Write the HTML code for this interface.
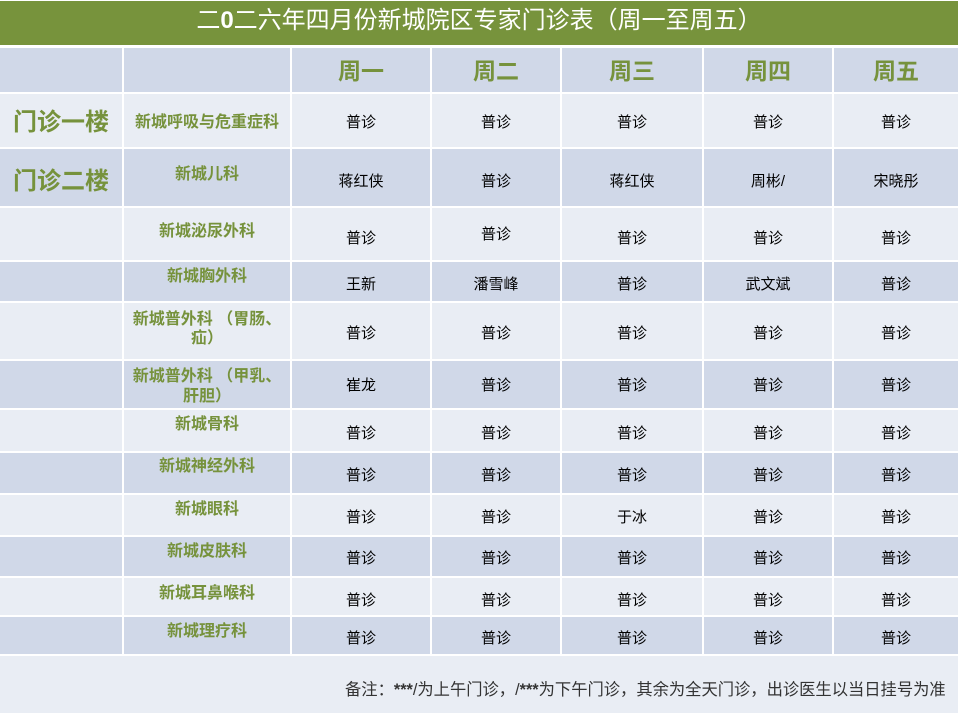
<!DOCTYPE html>
<html><head><meta charset="utf-8">
<style>
html,body{margin:0;padding:0;}
body{width:958px;height:713px;position:relative;background:#fff;overflow:hidden;font-family:"Liberation Sans","Noto Sans CJK SC",sans-serif;}
.r{position:absolute;}
.d{background:#D0D8E8;}
.l{background:#E9EDF4;}
.t{position:absolute;text-align:center;white-space:nowrap;}
.b{font-size:15px;color:#000;height:20px;line-height:20px;}
.n{font-size:16px;font-weight:bold;color:#76923C;height:20px;line-height:20px;}
.h{font-size:23px;font-weight:bold;color:#76923C;height:30px;line-height:30px;}
.f{font-size:24px;font-weight:bold;color:#76923C;height:30px;line-height:30px;}
</style></head><body>
<div class="r" style="left:0;top:1px;width:958px;height:44px;background:#77933C;"></div>
<div class="t" style="left:0;width:958px;top:6px;height:30px;line-height:30px;font-size:24px;color:#fff;">二<b>0</b>二六年四月份新城院区专家门诊表（周一至周五）</div>

<div id="bg"></div>
<script>
(function(){
var rows=[[48,92,'d'],[94,147,'l'],[149,206,'d'],[208,260,'l'],[262,301,'d'],[303,359,'l'],[361,408,'d'],[410,451,'l'],[453,493,'d'],[495,535,'l'],[537,576,'d'],[578,615,'l'],[617,654,'d']];
var cols=[[0,122],[124,290],[292,430],[432,560],[562,702],[704,832],[834,958]];
var h='';
rows.forEach(function(r){cols.forEach(function(c){
h+='<div class="r '+r[2]+'" style="left:'+c[0]+'px;top:'+r[0]+'px;width:'+(c[1]-c[0])+'px;height:'+(r[1]-r[0])+'px"></div>';});});
h+='<div class="r l" style="left:0;top:656px;width:958px;height:57px"></div>';
var cx=[[292,430],[432,560],[562,702],[704,832],[834,958]];
var hd=['周一','周二','周三','周四','周五'];
hd.forEach(function(s,i){h+='<div class="t h" style="left:'+cx[i][0]+'px;width:'+(cx[i][1]-cx[i][0])+'px;top:56px">'+s+'</div>';});
var data=[
[121,['普诊','普诊','普诊','普诊','普诊']],
[180,['蒋红侠','普诊','蒋红侠','周彬/','宋晓彤']],
[237,['普诊','普诊','普诊','普诊','普诊']],
[283,['王新','潘雪峰','普诊','武文斌','普诊']],
[332,['普诊','普诊','普诊','普诊','普诊']],
[384,['崔龙','普诊','普诊','普诊','普诊']],
[432,['普诊','普诊','普诊','普诊','普诊']],
[474,['普诊','普诊','普诊','普诊','普诊']],
[516,['普诊','普诊','于冰','普诊','普诊']],
[557,['普诊','普诊','普诊','普诊','普诊']],
[599,['普诊','普诊','普诊','普诊','普诊']],
[637,['普诊','普诊','普诊','普诊','普诊']]];
data.forEach(function(r,ri){r[1].forEach(function(s,i){
var y=r[0]; if(ri==2&&i==1) y=233;
h+='<div class="t b" style="left:'+cx[i][0]+'px;width:'+(cx[i][1]-cx[i][0])+'px;top:'+(y-8)+'px">'+s+'</div>';});});
var names=[[121,'新城呼吸与危重症科'],[173,'新城儿科'],[230,'新城泌尿外科'],[275,'新城胸外科'],[318,'新城普外科 （胃肠、'],[337,'疝）'],[375,'新城普外科 （甲乳、'],[395,'肝胆）'],[423,'新城骨科'],[465,'新城神经外科'],[508,'新城眼科'],[550,'新城皮肤科'],[592,'新城耳鼻喉科'],[630,'新城理疗科']];
names.forEach(function(n){h+='<div class="t n" style="left:124px;width:166px;top:'+(n[0]-8)+'px">'+n[1]+'</div>';});
h+='<div class="t f" style="left:0;width:122px;top:108px">门诊一楼</div>';
h+='<div class="t f" style="left:0;width:122px;top:167px">门诊二楼</div>';
document.getElementById('bg').innerHTML=h;
})();
</script>
<div class="t" style="left:345px;top:679px;height:22px;line-height:22px;font-size:16.3px;color:#333;text-align:left;">备注：<b>***</b>/为上午门诊，/<b>***</b>为下午门诊，其余为全天门诊，出诊医生以当日挂号为准</div>
</body></html>
